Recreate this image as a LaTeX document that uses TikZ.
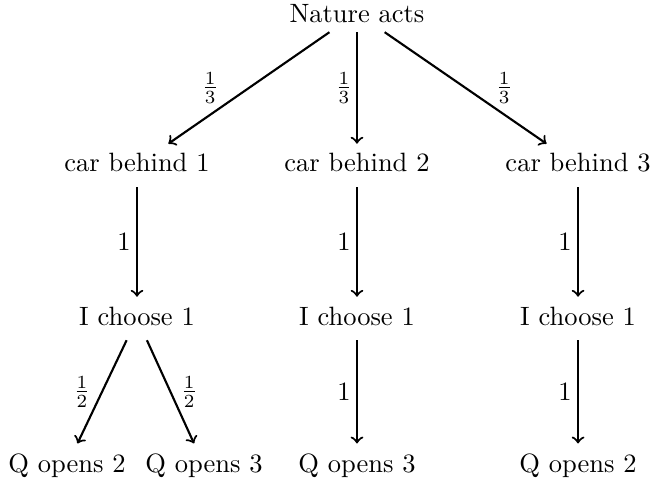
\documentclass[tikz,border=0pt]{standalone}
\usepackage{amsmath}
\usepackage{tikz}

\begin{document}
\begin{tikzpicture}[thick,
    outcome/.style={anchor=base, text depth=2pt},
    prob/.style={inner sep=2pt}]
    \useasboundingbox (0,0) rectangle (8.648,-6.393);
    % who moves
    \node[anchor=base] (nature) at (4.735,-0.292) {Nature acts};
    \node[outcome] (car1) at (1.817,-2.281) {car behind 1};
    \node[outcome] (car2) at (4.735,-2.281) {car behind 2};
    \node[outcome] (car3) at (7.667,-2.281) {car behind 3};
    \node[outcome] (pick1) at (1.817,-4.311) {I choose 1};
    \node[outcome] (pick2) at (4.735,-4.311) {I choose 1};
    \node[outcome] (pick3) at (7.667,-4.311) {I choose 1};
    \node[outcome] (open1) at (0.889,-6.261) {Q opens 2};
    \node[outcome] (open2) at (2.706,-6.261) {Q opens 3};
    \node[outcome] (open3) at (4.735,-6.261) {Q opens 3};
    \node[outcome] (open4) at (7.667,-6.261) {Q opens 2};
    % branches
    \draw[->] (nature) -- node[prob, left=9pt] {$\frac{1}{3}$} (car1);
    \draw[->] (nature) -- node[prob, left=-0.7pt] {$\frac{1}{3}$} (car2);
    \draw[->] (nature) -- node[prob, right=9pt] {$\frac{1}{3}$} (car3);
    \draw[->] (car1) -- node[prob, left] {1} (pick1);
    \draw[->] (car2) -- node[prob, left] {1} (pick2);
    \draw[->] (car3) -- node[prob, left] {1} (pick3);
    \draw[->] (pick1) -- node[prob, left=2pt] {$\frac{1}{2}$} (open1);
    \draw[->] (pick1) -- node[prob, right=1.5pt] {$\frac{1}{2}$} (open2);
    \draw[->] (pick2) -- node[prob, left] {1} (open3);
    \draw[->] (pick3) -- node[prob, left] {1} (open4);
\end{tikzpicture}
\end{document}
